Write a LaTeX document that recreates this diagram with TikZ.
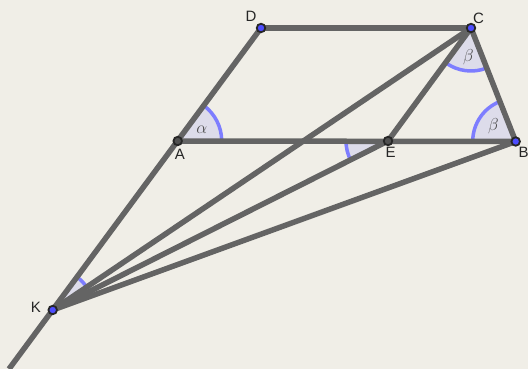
\documentclass[tikz,border=0pt]{standalone}
\usepackage{fontspec}
\setmainfont{Liberation Sans}
\definecolor{bg}{RGB}{240,238,231}
\definecolor{seg}{RGB}{100,100,100}
\definecolor{arcblue}{RGB}{125,125,255}
\definecolor{arcfill}{RGB}{221,220,234}
\definecolor{ptblue}{RGB}{77,77,255}
\definecolor{ptgray}{RGB}{80,80,80}
\begin{document}
\begin{tikzpicture}[x=1pt,y=-1pt,
  segline/.style={draw=seg,line width=5.5pt},
  anglemark/.style={fill=arcfill,draw=none},
  anglearc/.style={draw=arcblue,line width=3.5pt},
  freept/.style={circle,fill=ptblue,draw=black!85,line width=1.8pt,inner sep=0pt,minimum size=8.5pt},
  deppt/.style={circle,fill=ptgray,draw=black!85,line width=1.8pt,inner sep=0pt,minimum size=8.5pt},
  lbl/.style={font=\fontsize{15}{17}\selectfont,text=black!85,inner sep=0pt},
  glbl/.style={font=\fontsize{16}{18}\selectfont,text=black!70,inner sep=0pt}]
\fill[bg] (0,0) rectangle (528,369);
\useasboundingbox (0,0) rectangle (528,369);
\coordinate (D) at (261,28);
\coordinate (C) at (471,28);
\coordinate (A) at (177.7,141);
\coordinate (E) at (388,141);
\coordinate (B) at (515.7,141.5);
\coordinate (K) at (52.7,310);
\coordinate (Kend) at (9,369);
% angle sectors (y axis flipped: negative angles)
\fill[anglemark] (A) -- ++(0:44) arc[start angle=0,end angle=-53.7,radius=44] -- cycle;
\draw[anglearc] (A) ++(0:44) arc[start angle=0,end angle=-53.7,radius=44];
\fill[anglemark] (B) -- ++(-111.6:43) arc[start angle=-111.6,end angle=-180,radius=43] -- cycle;
\draw[anglearc] (B) ++(-111.6:43) arc[start angle=-111.6,end angle=-180,radius=43];
\fill[anglemark] (C) -- ++(-233.7:43) arc[start angle=-233.7,end angle=-291.6,radius=43] -- cycle;
\draw[anglearc] (C) ++(-233.7:43) arc[start angle=-233.7,end angle=-291.6,radius=43];
\fill[anglemark] (E) -- ++(-180:42) arc[start angle=-180,end angle=-206.8,radius=42] -- cycle;
\draw[anglearc] (E) ++(-180:42) arc[start angle=-180,end angle=-206.8,radius=42];
\fill[anglemark] (K) -- ++(-34:41) arc[start angle=-34,end angle=-53.5,radius=41] -- cycle;
\draw[anglearc] (K) ++(-34:41) arc[start angle=-34,end angle=-53.5,radius=41];
% segments
\draw[segline] (D) -- (C);
\draw[segline] (A) -- (B);
\draw[segline] (D) -- (Kend);
\draw[segline] (K) -- (C);
\draw[segline] (K) -- (E);
\draw[segline] (K) -- (B);
\draw[segline] (C) -- (E);
\draw[segline] (C) -- (B);
% points
\node[freept] (pD) at (D) {};
\node[freept] (pC) at (C) {};
\node[freept] (pB) at (B) {};
\node[freept] (pK) at (K) {};
\node[deppt] (pA) at (A) {};
\node[deppt] (pE) at (E) {};
% labels
\node[lbl] (lD) at (251,16.5) {D};
\node[lbl] (lC) at (478.5,18.7) {C};
\node[lbl] (lA) at (180,154) {A};
\node[lbl] (lE) at (390.5,152.5) {E};
\node[lbl] (lB) at (523.5,152.5) {B};
\node[lbl] (lK) at (36,307.5) {K};
\node[glbl] (ga) at (201.7,129.3) {$\alpha$};
\node[glbl] (gb1) at (468.3,56.7) {$\beta$};
\node[glbl] (gb2) at (493.3,126) {$\beta$};
\end{tikzpicture}
\end{document}
